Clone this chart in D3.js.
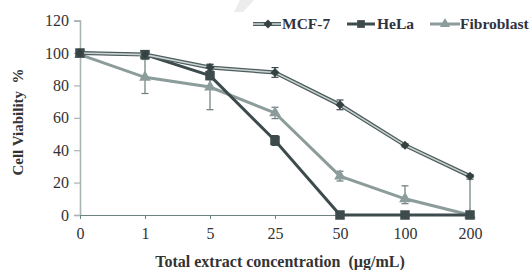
<!DOCTYPE html>
<html>
<head>
<meta charset="utf-8">
<script src="https://cdn.jsdelivr.net/npm/d3@7"></script>
<style>
body { margin: 0; background: #fff; }
text { font-family: "Liberation Serif", "DejaVu Serif", serif; }
</style>
</head>
<body>
<svg id="chart" width="530" height="270"></svg>
<script>
// data
var doses = ["0", "1", "5", "25", "50", "100", "200"];
var mcf7 = [100, 99, 91, 88, 68, 43, 24];
var mcf7Err = [1, 1, 2, 3, 3, 1, 1];
var hela = [100, 99, 86, 46, 0, 0, 0];
var helaErr = [1, 1, 2, 3, 0, 0, 0];
var fibro = [99, 85, 79, 63, 24, 10, 0];
var fibroErrLo = [1, 10, 14, 3.5, 3, 3, 0];
var fibroErrHi = [1, 11, 14, 3.5, 3, 8, 22];
var yTicks = [0, 20, 40, 60, 80, 100, 120];

var svg = d3.select("#chart");

var x = d3.scalePoint().domain(doses).range([80, 470]);
var y = d3.scaleLinear().domain([0, 120]).range([215, 20.6]);

// faint watermark at the top
svg.append("path")
    .attr("d", "M240,0 L254,0 L243,12 L234,12 Z")
    .attr("fill", "#ececec");

// axes
var yAxis = svg.append("g")
    .attr("transform", "translate(80,0)")
    .call(d3.axisLeft(y).tickValues(yTicks).tickSize(6).tickPadding(5));
yAxis.select(".domain").attr("stroke", "#a9b4b4").attr("stroke-width", 1.6);
yAxis.selectAll(".tick line").attr("stroke", "#a9b4b4").attr("stroke-width", 1.2);
yAxis.selectAll(".tick text")
    .attr("font-family", "Liberation Serif")
    .attr("font-size", 16)
    .attr("fill", "#333");

var xAxis = svg.append("g")
    .attr("transform", "translate(0,215)")
    .call(d3.axisBottom(x).tickSize(4).tickPadding(9).tickSizeOuter(0));
xAxis.select(".domain").attr("stroke", "#6f8282").attr("stroke-width", 1.2);
xAxis.selectAll(".tick line").attr("stroke", "#6f8282");
xAxis.selectAll(".tick text")
    .attr("font-family", "Liberation Serif")
    .attr("font-size", 16)
    .attr("fill", "#333");

// error bars
function errorBars(vals, lo, hi, color) {
    var g = svg.append("g");
    vals.forEach(function(v, i) {
        if (lo[i] == 0 && hi[i] == 0) return;
        var cx = x(doses[i]);
        var top = y(Math.min(120, v + hi[i]));
        var bot = y(Math.max(0, v - lo[i]));
        g.append("line").attr("x1", cx).attr("x2", cx).attr("y1", top).attr("y2", bot)
            .attr("stroke", color).attr("stroke-width", 1.2);
        g.append("line").attr("x1", cx - 3.5).attr("x2", cx + 3.5).attr("y1", top).attr("y2", top)
            .attr("stroke", color).attr("stroke-width", 1.2);
        if (v - lo[i] > 0) {
            g.append("line").attr("x1", cx - 3.5).attr("x2", cx + 3.5).attr("y1", bot).attr("y2", bot)
                .attr("stroke", color).attr("stroke-width", 1.2);
        }
    });
}

errorBars(fibro, fibroErrLo, fibroErrHi, "#6d7c7c");
errorBars(hela, helaErr, helaErr, "#3d4b4c");
errorBars(mcf7, mcf7Err, mcf7Err, "#3d4b4c");

var line = d3.line()
    .x(function(d, i) { return x(doses[i]); })
    .y(function(d) { return y(d); });

// fibroblast
svg.append("path").datum(fibro)
    .attr("d", line).attr("fill", "none")
    .attr("stroke", "#8c9c9b").attr("stroke-width", 3);
svg.selectAll(".fib").data(fibro).enter().append("path")
    .attr("transform", function(d, i) { return "translate(" + x(doses[i]) + "," + y(d) + ")"; })
    .attr("d", d3.symbol().type(d3.symbolTriangle).size(60))
    .attr("fill", "#8c9c9b");

// hela
svg.append("path").datum(hela)
    .attr("d", line).attr("fill", "none")
    .attr("stroke", "#3d4b4c").attr("stroke-width", 3);
svg.selectAll(".hela").data(hela).enter().append("path")
    .attr("transform", function(d, i) { return "translate(" + x(doses[i]) + "," + y(d) + ")"; })
    .attr("d", d3.symbol().type(d3.symbolSquare).size(90))
    .attr("fill", "#3d4b4c");

// mcf-7: double line look
svg.append("path").datum(mcf7)
    .attr("d", line).attr("fill", "none")
    .attr("stroke", "#4d5c5c").attr("stroke-width", 4);
svg.append("path").datum(mcf7)
    .attr("d", line).attr("fill", "none")
    .attr("stroke", "#c9d1d1").attr("stroke-width", 1.6);
svg.selectAll(".mcf").data(mcf7).enter().append("path")
    .attr("transform", function(d, i) { return "translate(" + x(doses[i]) + "," + y(d) + ") rotate(45)"; })
    .attr("d", d3.symbol().type(d3.symbolSquare).size(40))
    .attr("fill", "#344242");

// legend
var legend = [
    {name: "MCF-7", x: 253, kind: "mcf"},
    {name: "HeLa", x: 347, kind: "hela"},
    {name: "Fibroblast", x: 430, kind: "fib"}
];
legend.forEach(function(l) {
    var g = svg.append("g").attr("transform", "translate(" + l.x + ",24)");
    if (l.kind == "mcf") {
        g.append("line").attr("x1", 0).attr("x2", 28).attr("stroke", "#4d5c5c").attr("stroke-width", 4);
        g.append("line").attr("x1", 0).attr("x2", 28).attr("stroke", "#c9d1d1").attr("stroke-width", 1.6);
        g.append("path").attr("transform", "translate(15,0) rotate(45)")
            .attr("d", d3.symbol().type(d3.symbolSquare).size(40)).attr("fill", "#344242");
    } else if (l.kind == "hela") {
        g.append("line").attr("x1", 0).attr("x2", 28).attr("stroke", "#3d4b4c").attr("stroke-width", 3);
        g.append("path").attr("transform", "translate(14,0)")
            .attr("d", d3.symbol().type(d3.symbolSquare).size(60)).attr("fill", "#3d4b4c");
    } else {
        g.append("line").attr("x1", 0).attr("x2", 30).attr("stroke", "#8c9c9b").attr("stroke-width", 3);
        g.append("path").attr("transform", "translate(15,0)")
            .attr("d", d3.symbol().type(d3.symbolTriangle).size(45)).attr("fill", "#8c9c9b");
    }
    g.append("text")
        .attr("x", l.kind == "mcf" ? 29 : 30)
        .attr("y", 5)
        .attr("font-size", 15.5)
        .attr("font-weight", "bold")
        .attr("fill", "#2f3340")
        .text(l.name);
});

// axis titles
svg.append("text")
    .attr("transform", "translate(23,122) rotate(-90)")
    .attr("text-anchor", "middle")
    .attr("font-size", 15)
    .attr("font-weight", "bold")
    .attr("fill", "#333")
    .attr("xml:space", "preserve")
    .text("Cell Viability  %");

svg.append("text")
    .attr("x", 280)
    .attr("y", 267)
    .attr("text-anchor", "middle")
    .attr("font-size", 16)
    .attr("font-weight", "bold")
    .attr("fill", "#333")
    .attr("xml:space", "preserve")
    .text("Total extract concentration  (\u00b5g/mL)");
</script>
</body>
</html>
